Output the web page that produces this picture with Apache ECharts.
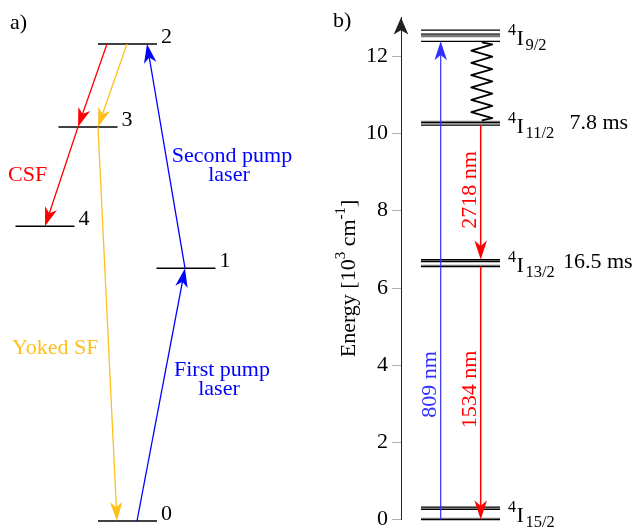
<!DOCTYPE html>
<html>
<head>
<meta charset="utf-8">
<script src="https://cdn.jsdelivr.net/npm/echarts@6.0.0/dist/echarts.min.js"></script>
<style>
html, body { margin: 0; padding: 0; background: #fff; }
#chart { width: 637px; height: 527px; }
</style>
</head>
<body>
<div id="chart"></div>
<script>
// ================= DATA =================
// Panel a) schematic levels (arbitrary energy units, read from the picture)
const levelLabelsA = ['0', '1', '2', '3', '4'];
const levelEnergiesA = [0, 53, 100, 82.6, 61.8];
const csfSteps = [[2, 3], [3, 4]];
const yokedSfSteps = [[2, 3], [3, 0]];
const pumpSteps = [[0, 1], [1, 2]];
const processLabels = ['CSF', 'Yoked SF', 'Second pump', 'laser', 'First pump', 'laser'];
const panelLabels = ['a)', 'b)'];

// Panel b) Er3+ manifolds, energy in 10^3 cm^-1
const manifoldTerms = ['15/2', '13/2', '11/2', '9/2'];
const manifoldLifetimes = ['', '16.5 ms', '7.8 ms', ''];
const starkI15 = [0.00, 0.03, 0.26, 0.29, 0.32];
const starkI13 = [6.55, 6.58, 6.68, 6.71, 6.73];
const starkI11 = [10.21, 10.24, 10.28, 10.31];
const starkI9 = [12.38, 12.50, 12.55, 12.58, 12.67];
const wavelengthLabels = ['809 nm', '2718 nm', '1534 nm'];
const energyTicks = [0, 2, 4, 6, 8, 10, 12];
const energyAxisMax = 13;

// ================= LAYOUT / STYLE =================
const SERIF = '"Liberation Serif", "Times New Roman", "DejaVu Serif", serif';
const RED = '#ff0000', ORANGE = '#ffbf1f', BLUE = '#0000ff', BLUE_B = '#2f2fff';

const LAYOUT_A = {
  levelCenterX: [127.5, 186, 127.5, 88, 45],
  levelHalfWidth: 29.5,
  csfX: [[107, 78], [78, 45]],
  yokedX: [[127, 98], [98, 117]],
  pumpX: [[137, 185], [185, 147]],
  textPos: [[8, 72.4, 'left'], [12, 36.2, 'left'], [232, 76.4, 'center'], [229, 72.4, 'center'], [222, 31.7, 'center'], [219, 27.7, 'center']],
  textColor: [RED, ORANGE, BLUE, BLUE, BLUE, BLUE],
  panelPos: [10, 104.4]
};
const LAYOUT_B = {
  levelX: [0.20, 0.99],
  pumpX: 0.397,
  emitX: 0.797,
  zigX: 0.808,
  zigAmp: 10.5,
  labelX: 1.07,
  lifetimeOffset: [0, 55, 61.5, 0],
  wlPos: [[0.295, 3.50], [0.697, 8.53], [0.697, 3.37]],
  wlColor: [BLUE_B, RED, RED],
  panelPos: [-0.68, 12.91]
};

function txt(x, y, text, size, color, align, extra) {
  return Object.assign({
    type: 'text', x: x, y: y,
    style: {
      text: text, fill: color, font: size + 'px ' + SERIF,
      textAlign: align, textVerticalAlign: 'middle', align: align, verticalAlign: 'middle'
    }
  }, extra || {});
}

function arrowEls(p1, p2, color, lw) {
  const L = 19, W = 12.5;
  const dx = p2[0] - p1[0], dy = p2[1] - p1[1];
  const len = Math.hypot(dx, dy);
  const ux = dx / len, uy = dy / len, nx = -uy, ny = ux;
  const back = [p2[0] - ux * L, p2[1] - uy * L];
  const notch = [p2[0] - ux * L * 0.72, p2[1] - uy * L * 0.72];
  return [
    { type: 'line', shape: { x1: p1[0], y1: p1[1], x2: notch[0], y2: notch[1] },
      style: { stroke: color, lineWidth: lw } },
    { type: 'polygon', shape: { points: [[p2[0], p2[1]], [back[0] + nx * W / 2, back[1] + ny * W / 2], notch, [back[0] - nx * W / 2, back[1] - ny * W / 2]] },
      style: { fill: color } }
  ];
}

// ---- build series data from the arrays ----
const levelDataA = levelEnergiesA.map((e, i) => [LAYOUT_A.levelCenterX[i], e, i]);

const arrowDataA = [];
[[csfSteps, LAYOUT_A.csfX, 0], [yokedSfSteps, LAYOUT_A.yokedX, 1], [pumpSteps, LAYOUT_A.pumpX, 2]].forEach(([steps, xs, c]) => {
  steps.forEach((s, k) => arrowDataA.push([xs[k][0], levelEnergiesA[s[0]], xs[k][1], levelEnergiesA[s[1]], c]));
});
const arrowColorsA = [RED, ORANGE, BLUE];

const textDataA = processLabels.map((t, i) => [LAYOUT_A.textPos[i][0], LAYOUT_A.textPos[i][1], i]);

const manifolds = [starkI15, starkI13, starkI11, starkI9];
const starkData = [];
manifolds.forEach((arr, m) => arr.forEach((e, k) => starkData.push([LAYOUT_B.levelX[0], e, m, k])));
const manifoldLabelData = manifolds.map((arr, m) => [LAYOUT_B.labelX, arr.reduce((a, b) => a + b, 0) / arr.length, m]);

// transitions: [x, from, to, colorIdx]
const transitionDataB = [
  [LAYOUT_B.pumpX, starkI15[0], starkI9[0], 0],
  [LAYOUT_B.emitX, starkI11[0], starkI13[starkI13.length - 1], 1],
  [LAYOUT_B.emitX, starkI13[0], starkI15[0], 1]
];
const transitionColorsB = [BLUE_B, RED];
const nonRadiativeB = [[LAYOUT_B.zigX, starkI9[0], starkI11[starkI11.length - 1]]];
const wlData = wavelengthLabels.map((t, i) => [LAYOUT_B.wlPos[i][0], LAYOUT_B.wlPos[i][1], i]);

const chart = echarts.init(document.getElementById('chart'), null, { renderer: 'canvas' });

const option = {
  backgroundColor: '#fff',
  animation: false,
  grid: [
    { left: 0, top: 1.07, width: 320, height: 524.7, outerBoundsMode: 'none', containLabel: false },
    { left: 401, top: 17.4, width: 236, height: 502.1, outerBoundsMode: 'none', containLabel: false }
  ],
  xAxis: [
    { gridIndex: 0, type: 'value', min: 0, max: 320, show: false },
    { gridIndex: 1, type: 'value', min: 0, max: 2.36, show: false }
  ],
  yAxis: [
    { gridIndex: 0, type: 'value', min: -1, max: 109, show: false },
    {
      gridIndex: 1, type: 'value', min: 0, max: energyAxisMax, interval: 2, position: 'left',
      axisLine: { show: true, lineStyle: { color: '#222', width: 1 }, symbol: ['none', 'arrow'], symbolSize: [11, 17] },
      axisTick: { show: true, inside: false, length: 9, lineStyle: { color: '#b0b0b0', width: 1 }, customValues: energyTicks },
      axisLabel: { show: true, margin: 13, fontSize: 22, fontFamily: SERIF, color: '#000', customValues: energyTicks },
      splitLine: { show: false },
      name: '{t|Energy [10}{u|3}{t| cm}{u|-1}{t|]}',
      nameLocation: 'middle', nameRotate: 90, nameGap: 37,
      nameTextStyle: {
        color: '#000', fontFamily: SERIF, fontSize: 22, padding: [0, 20, 0, 0],
        rich: {
          t: { fontSize: 22, fontFamily: SERIF, color: '#000', lineHeight: 30 },
          u: { fontSize: 15, fontFamily: SERIF, color: '#000', lineHeight: 14, verticalAlign: 'top' }
        }
      }
    }
  ],
  series: [
    // ---------- panel a ----------
    {
      type: 'custom', name: 'levels a', xAxisIndex: 0, yAxisIndex: 0, data: levelDataA,
      encode: { x: 0, y: 1 },
      renderItem: function (params, api) {
        const cx = api.value(0), e = api.value(1), i = api.value(2);
        const hw = LAYOUT_A.levelHalfWidth;
        const p1 = api.coord([cx - hw, e]), p2 = api.coord([cx + hw, e]);
        return { type: 'group', children: [
          { type: 'line', shape: { x1: p1[0], y1: p1[1], x2: p2[0], y2: p2[1] }, style: { stroke: '#000', lineWidth: 1.5 } },
          txt(p2[0] + 4, p2[1] - 7, levelLabelsA[i], 22, '#000', 'left')
        ] };
      }
    },
    {
      type: 'custom', name: 'transitions a', xAxisIndex: 0, yAxisIndex: 0, data: arrowDataA,
      encode: { x: [0, 2], y: [1, 3] },
      renderItem: function (params, api) {
        const p1 = api.coord([api.value(0), api.value(1)]);
        const p2 = api.coord([api.value(2), api.value(3)]);
        return { type: 'group', children: arrowEls(p1, p2, arrowColorsA[api.value(4)], 1.3) };
      }
    },
    {
      type: 'custom', name: 'labels a', xAxisIndex: 0, yAxisIndex: 0, data: textDataA,
      encode: { x: 0, y: 1 },
      renderItem: function (params, api) {
        const i = api.value(2);
        const p = api.coord([api.value(0), api.value(1)]);
        return txt(p[0], p[1], processLabels[i], 22, LAYOUT_A.textColor[i], LAYOUT_A.textPos[i][2]);
      }
    },
    {
      type: 'custom', name: 'panel a', xAxisIndex: 0, yAxisIndex: 0, data: [LAYOUT_A.panelPos],
      encode: { x: 0, y: 1 },
      renderItem: function (params, api) {
        const p = api.coord([api.value(0), api.value(1)]);
        return txt(p[0], p[1], panelLabels[0], 22, '#000', 'left');
      }
    },
    // ---------- panel b ----------
    {
      type: 'custom', name: 'stark levels', xAxisIndex: 1, yAxisIndex: 1, data: starkData,
      encode: { x: 0, y: 1 },
      renderItem: function (params, api) {
        const e = api.value(1), k = api.value(3);
        const p1 = api.coord([LAYOUT_B.levelX[0], e]), p2 = api.coord([LAYOUT_B.levelX[1], e]);
        return { type: 'line', shape: { x1: p1[0], y1: p1[1], x2: p2[0], y2: p2[1] },
          style: { stroke: k % 2 === 0 ? '#000' : '#777', lineWidth: 1.3 } };
      }
    },
    {
      type: 'custom', name: 'non-radiative', xAxisIndex: 1, yAxisIndex: 1, data: nonRadiativeB,
      encode: { x: 0, y: [1, 2] },
      renderItem: function (params, api) {
        const top = api.coord([api.value(0), api.value(1)]);
        const bot = api.coord([api.value(0), api.value(2)]);
        const n = 13, a = LAYOUT_B.zigAmp;
        const pts = [[top[0], top[1] + 1]];
        const h = bot[1] - top[1];
        for (let k = 0; k < n; k++) {
          pts.push([top[0] + (k % 2 === 0 ? a : -a), top[1] + h * (k + 0.5) / n]);
        }
        pts.push([bot[0], bot[1] - 1]);
        return { type: 'polyline', shape: { points: pts },
          style: { stroke: '#000', lineWidth: 1.8, fill: 'none', lineJoin: 'round' } };
      }
    },
    {
      type: 'custom', name: 'transitions b', xAxisIndex: 1, yAxisIndex: 1, data: transitionDataB,
      encode: { x: 0, y: [1, 2] },
      renderItem: function (params, api) {
        const c = api.value(3);
        const p1 = api.coord([api.value(0), api.value(1)]);
        const p2 = api.coord([api.value(0), api.value(2)]);
        return { type: 'group', children: arrowEls(p1, p2, transitionColorsB[c], c === 0 ? 1.2 : 1.5) };
      }
    },
    {
      type: 'custom', name: 'wavelengths', xAxisIndex: 1, yAxisIndex: 1, data: wlData,
      encode: { x: 0, y: 1 },
      renderItem: function (params, api) {
        const i = api.value(2);
        const p = api.coord([api.value(0), api.value(1)]);
        return txt(p[0], p[1], wavelengthLabels[i], 22, LAYOUT_B.wlColor[i], 'center', { rotation: Math.PI / 2 });
      }
    },
    {
      type: 'custom', name: 'manifold labels', xAxisIndex: 1, yAxisIndex: 1, data: manifoldLabelData,
      encode: { x: 0, y: 1 },
      renderItem: function (params, api) {
        const m = api.value(2);
        const p = api.coord([api.value(0), api.value(1)]);
        const cy = p[1] + 4;
        const children = [
          txt(p[0], cy - 8.5, '4', 16, '#000', 'left'),
          txt(p[0] + 8.5, cy, 'I', 22, '#000', 'left'),
          txt(p[0] + 17.5, cy + 6, manifoldTerms[m], 16.5, '#000', 'left')
        ];
        if (manifoldLifetimes[m]) children.push(txt(p[0] + LAYOUT_B.lifetimeOffset[m], cy - 4.5, manifoldLifetimes[m], 22, '#000', 'left'));
        return { type: 'group', children: children };
      }
    },
    {
      type: 'custom', name: 'panel b', xAxisIndex: 1, yAxisIndex: 1, data: [LAYOUT_B.panelPos],
      encode: { x: 0, y: 1 },
      renderItem: function (params, api) {
        const p = api.coord([api.value(0), api.value(1)]);
        return txt(p[0], p[1], panelLabels[1], 22, '#000', 'left');
      }
    }
  ]
};
chart.setOption(option);
</script>
</body>
</html>
